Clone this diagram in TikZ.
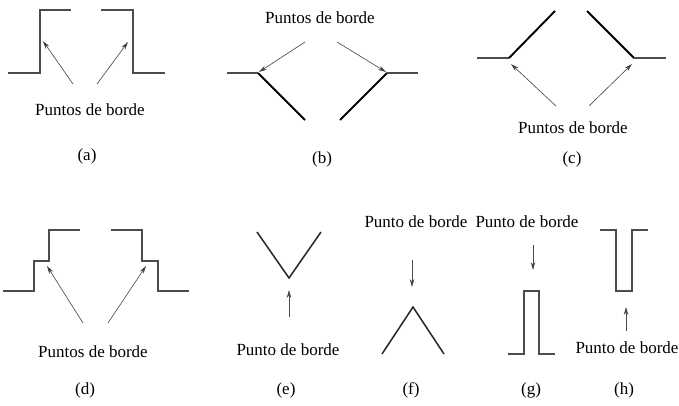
\documentclass[tikz,border=0pt]{standalone}
\usepackage{fontspec}
\setmainfont{Liberation Serif}
\usetikzlibrary{arrows.meta}
\begin{document}
\begin{tikzpicture}[x=1pt,y=-1pt,
  lbl/.style={inner sep=0pt,font=\fontsize{17}{20}\selectfont},
  thinedge/.style={draw=black!70,line width=1.1pt},
  thickedge/.style={draw=black,line width=1.9pt},
  medge/.style={draw=black!85,line width=1.5pt},
  ptr/.style={draw=black!70,line width=0.65pt,-{Stealth[length=8pt,width=4.5pt,fill=black]}}]
\useasboundingbox[fill=white] (0,0) rectangle (679,405);

% ---------- (a)
\draw[thinedge] (8,73) -- (40,73) -- (40,10) -- (71,10);
\draw[thinedge] (101,10) -- (133,10) -- (133,73) -- (165,73);
\node[lbl] (ta) at (90,110) {Puntos de borde};
\coordinate (a1s) at (73,84); \coordinate (a1e) at (43,41);
\coordinate (a2s) at (97,84); \coordinate (a2e) at (128,42);
\draw[ptr] (a1s) -- (a1e);
\draw[ptr] (a2s) -- (a2e);
\node[lbl] (la) at (87,156) {(a)};

% ---------- (b)
\draw[thinedge] (227,73) -- (258,73);
\draw[thickedge] (258,73) -- (305,120);
\draw[thickedge] (340,120) -- (387,73);
\draw[thinedge] (387,73) -- (418,73);
\node[lbl] (tb) at (320,18) {Puntos de borde};
\coordinate (b1s) at (305,42); \coordinate (b1e) at (259,72);
\coordinate (b2s) at (337,42); \coordinate (b2e) at (386,72);
\draw[ptr] (b1s) -- (b1e);
\draw[ptr] (b2s) -- (b2e);
\node[lbl] (lb) at (322,159) {(b)};

% ---------- (c)
\draw[thinedge] (477,58) -- (509,58);
\draw[thickedge] (509,58) -- (555,11);
\draw[thickedge] (587,11) -- (634,58);
\draw[thinedge] (634,58) -- (666,58);
\node[lbl] (tc) at (573,128) {Puntos de borde};
\coordinate (c1s) at (556,106); \coordinate (c1e) at (511,64);
\coordinate (c2s) at (589,106); \coordinate (c2e) at (632,64);
\draw[ptr] (c1s) -- (c1e);
\draw[ptr] (c2s) -- (c2e);
\node[lbl] (lc) at (572,159) {(c)};

% ---------- (d)
\draw[thinedge] (3,291) -- (34,291) -- (34,261) -- (49,261) -- (49,230) -- (80,230);
\draw[thinedge] (111,230) -- (142,230) -- (142,261) -- (158,261) -- (158,291) -- (189,291);
\node[lbl] (td) at (93,352) {Puntos de borde};
\coordinate (d1s) at (83,323); \coordinate (d1e) at (47,266);
\coordinate (d2s) at (108,323); \coordinate (d2e) at (146,266);
\draw[ptr] (d1s) -- (d1e);
\draw[ptr] (d2s) -- (d2e);
\node[lbl] (ld) at (85,390) {(d)};

% ---------- (e)
\draw[medge] (257,232) -- (289,278) -- (321,232);
\node[lbl] (te) at (288,350) {Punto de borde};
\coordinate (es) at (289,317); \coordinate (ee) at (289,290);
\draw[ptr] (es) -- (ee);
\node[lbl] (le) at (286,390) {(e)};

% ---------- (f)
\draw[medge] (382,354) -- (413,307) -- (444,354);
\node[lbl] (tf) at (416,222) {Punto de borde};
\coordinate (fs) at (412,260); \coordinate (fe) at (412,287);
\draw[ptr] (fs) -- (fe);
\node[lbl] (lf) at (411,390) {(f)};

% ---------- (g)
\draw[thinedge] (508,354) -- (524,354) -- (524,291) -- (539,291) -- (539,354) -- (555,354);
\node[lbl] (tg) at (527,222) {Punto de borde};
\coordinate (gs) at (533,245); \coordinate (ge) at (533,270);
\draw[ptr] (gs) -- (ge);
\node[lbl] (lg) at (531,390) {(g)};

% ---------- (h)
\draw[thinedge] (600,230) -- (616,230) -- (616,291) -- (632,291) -- (632,230) -- (648,230);
\node[lbl] (th) at (627,348) {Punto de borde};
\coordinate (hs) at (626,331); \coordinate (he) at (626,307);
\draw[ptr] (hs) -- (he);
\node[lbl] (lh) at (624,390) {(h)};
\end{tikzpicture}
\end{document}
